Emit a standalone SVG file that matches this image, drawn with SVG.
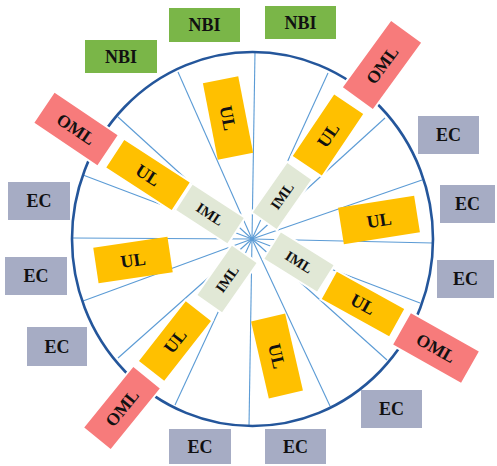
<svg xmlns="http://www.w3.org/2000/svg" width="497" height="466" viewBox="0 0 497 466">
  <style>
    .spoke { stroke: #5b9bd5; stroke-width: 1.1; fill: none; }
    .ring { stroke: #24569b; stroke-width: 2.6; fill: none; }
    .nbi { fill: #7ab648; }
    .ec { fill: #a6acc4; }
    .oml { fill: #f77b7b; stroke: #ffffff; stroke-width: 2; }
    .ul { fill: #ffc000; }
    .arm { stroke: #ffffff; stroke-width: 2; }
    .iml { fill: #e1e8d6; stroke: #ffffff; stroke-width: 2; }
    text { font-family: "Liberation Serif", "Times New Roman", serif; font-weight: bold; fill: #111111; text-anchor: middle; }
    .t18 { font-size: 18px; }
    .t17 { font-size: 17.5px; }
    .t14 { font-size: 14.5px; }
  </style>

  <g id="connectors">
    <g class="spoke">
      <line x1="252" y1="239" x2="255" y2="52"/>
      <line x1="252" y1="239" x2="328" y2="73"/>
      <line x1="252" y1="239" x2="385" y2="118"/>
      <line x1="252" y1="239" x2="422" y2="180"/>
      <line x1="252" y1="239" x2="433" y2="243"/>
      <line x1="252" y1="239" x2="420" y2="303"/>
      <line x1="252" y1="239" x2="387" y2="360"/>
      <line x1="252" y1="239" x2="330" y2="406"/>
      <line x1="252" y1="239" x2="249" y2="426"/>
      <line x1="252" y1="239" x2="175" y2="405"/>
      <line x1="252" y1="239" x2="118" y2="358"/>
      <line x1="252" y1="239" x2="83" y2="301"/>
      <line x1="252" y1="239" x2="72" y2="238"/>
      <line x1="252" y1="239" x2="83" y2="175"/>
      <line x1="252" y1="239" x2="118" y2="117"/>
      <line x1="252" y1="239" x2="178" y2="72"/>
    </g>
    <ellipse id="vessel" class="ring" cx="252.5" cy="239" rx="180.5" ry="187"/>
  </g>

  <!-- NBI -->
  <g id="nbi1"><rect class="nbi" x="85" y="40" width="72" height="33"/><text class="t18" x="121" y="56.5" dy="0.35em">NBI</text></g>
  <g id="nbi2"><rect class="nbi" x="169" y="8" width="71" height="34"/><text class="t18" x="204.5" y="25" dy="0.35em">NBI</text></g>
  <g id="nbi3"><rect class="nbi" x="265" y="6" width="71" height="33"/><text class="t18" x="300.5" y="22.5" dy="0.35em">NBI</text></g>

  <!-- EC -->
  <g id="ec1"><rect class="ec" x="418" y="116" width="61" height="38"/><text class="t18" x="448.5" y="135" dy="0.35em">EC</text></g>
  <g id="ec2"><rect class="ec" x="440" y="185" width="55" height="38"/><text class="t18" x="467.5" y="204" dy="0.35em">EC</text></g>
  <g id="ec3"><rect class="ec" x="437" y="260" width="57" height="38"/><text class="t18" x="465.5" y="279" dy="0.35em">EC</text></g>
  <g id="ec4"><rect class="ec" x="361" y="390" width="61" height="38"/><text class="t18" x="391.5" y="409" dy="0.35em">EC</text></g>
  <g id="ec5"><rect class="ec" x="265" y="429" width="61" height="35"/><text class="t18" x="295.5" y="446.5" dy="0.35em">EC</text></g>
  <g id="ec6"><rect class="ec" x="169" y="429" width="62" height="35"/><text class="t18" x="200" y="446.5" dy="0.35em">EC</text></g>
  <g id="ec7"><rect class="ec" x="27" y="327" width="60" height="39"/><text class="t18" x="57" y="346.5" dy="0.35em">EC</text></g>
  <g id="ec8"><rect class="ec" x="5" y="257" width="62" height="38"/><text class="t18" x="36" y="276" dy="0.35em">EC</text></g>
  <g id="ec9"><rect class="ec" x="8" y="182" width="62" height="38"/><text class="t18" x="39" y="201" dy="0.35em">EC</text></g>

  <!-- standalone UL -->
  <g id="ul-top" transform="translate(228,118) rotate(79)"><rect class="ul" x="-39" y="-18" width="78" height="36"/><text class="t18" x="0" y="0" dy="0.35em">UL</text></g>
  <g id="ul-bottom" transform="translate(277,356) rotate(77)"><rect class="ul" x="-39.5" y="-17.5" width="79" height="35"/><text class="t18" x="0" y="0" dy="0.35em">UL</text></g>
  <g id="ul-right" transform="translate(379,220) rotate(-9)"><rect class="ul" x="-38.5" y="-18.5" width="77" height="37"/><text class="t18" x="0" y="0" dy="0.35em">UL</text></g>
  <g id="ul-left" transform="translate(133,260) rotate(-8.5)"><rect class="ul" x="-37.5" y="-18" width="75" height="36"/><text class="t18" x="0" y="0" dy="0.35em">UL</text></g>

  <!-- NW arm -->
  <g id="iml-nw" transform="translate(210,214) rotate(33)"><rect class="iml" x="-31.5" y="-16" width="63" height="32"/><text class="t14" x="0" y="0" dy="0.35em">IML</text></g>
  <g id="ul-nw" transform="translate(148,175) rotate(33)"><rect class="ul arm" x="-40" y="-17.5" width="80" height="35"/><text class="t18" x="0" y="0" dy="0.35em">UL</text></g>
  <g id="oml-nw" transform="translate(76,129) rotate(34)"><rect class="oml" x="-39" y="-19" width="78" height="38"/><text class="t17" x="0" y="0" dy="0.35em">OML</text></g>

  <!-- NE arm -->
  <g id="iml-ne" transform="translate(282,196) rotate(-55)"><rect class="iml" x="-31" y="-15.5" width="62" height="31"/><text class="t14" x="0" y="0" dy="0.35em">IML</text></g>
  <g id="ul-ne" transform="translate(328,135) rotate(-56)"><rect class="ul arm" x="-38" y="-18.5" width="76" height="37"/><text class="t18" x="0" y="0" dy="0.35em">UL</text></g>
  <g id="oml-ne" transform="translate(382,65) rotate(-54)"><rect class="oml" x="-42" y="-19.5" width="84" height="39"/><text class="t17" x="0" y="0" dy="0.35em">OML</text></g>

  <!-- SW arm -->
  <g id="iml-sw" transform="translate(227,279) rotate(-55)"><rect class="iml" x="-31" y="-16" width="62" height="32"/><text class="t14" x="0" y="0" dy="0.35em">IML</text></g>
  <g id="ul-sw" transform="translate(175,341) rotate(-52)"><rect class="ul arm" x="-39" y="-17" width="78" height="34"/><text class="t18" x="0" y="0" dy="0.35em">UL</text></g>
  <g id="oml-sw" transform="translate(122,408) rotate(-51)"><rect class="oml" x="-40" y="-18" width="80" height="36"/><text class="t17" x="0" y="0" dy="0.35em">OML</text></g>

  <!-- SE arm -->
  <g id="iml-se" transform="translate(299,262) rotate(32)"><rect class="iml" x="-32" y="-16.5" width="64" height="33"/><text class="t14" x="0" y="0" dy="0.35em">IML</text></g>
  <g id="ul-se" transform="translate(363,304) rotate(29)"><rect class="ul arm" x="-39.5" y="-16.5" width="79" height="33"/><text class="t18" x="0" y="0" dy="0.35em">UL</text></g>
  <g id="oml-se" transform="translate(436,348) rotate(29.5)"><rect class="oml" x="-40" y="-19" width="80" height="38"/><text class="t17" x="0" y="0" dy="0.35em">OML</text></g>
</svg>
